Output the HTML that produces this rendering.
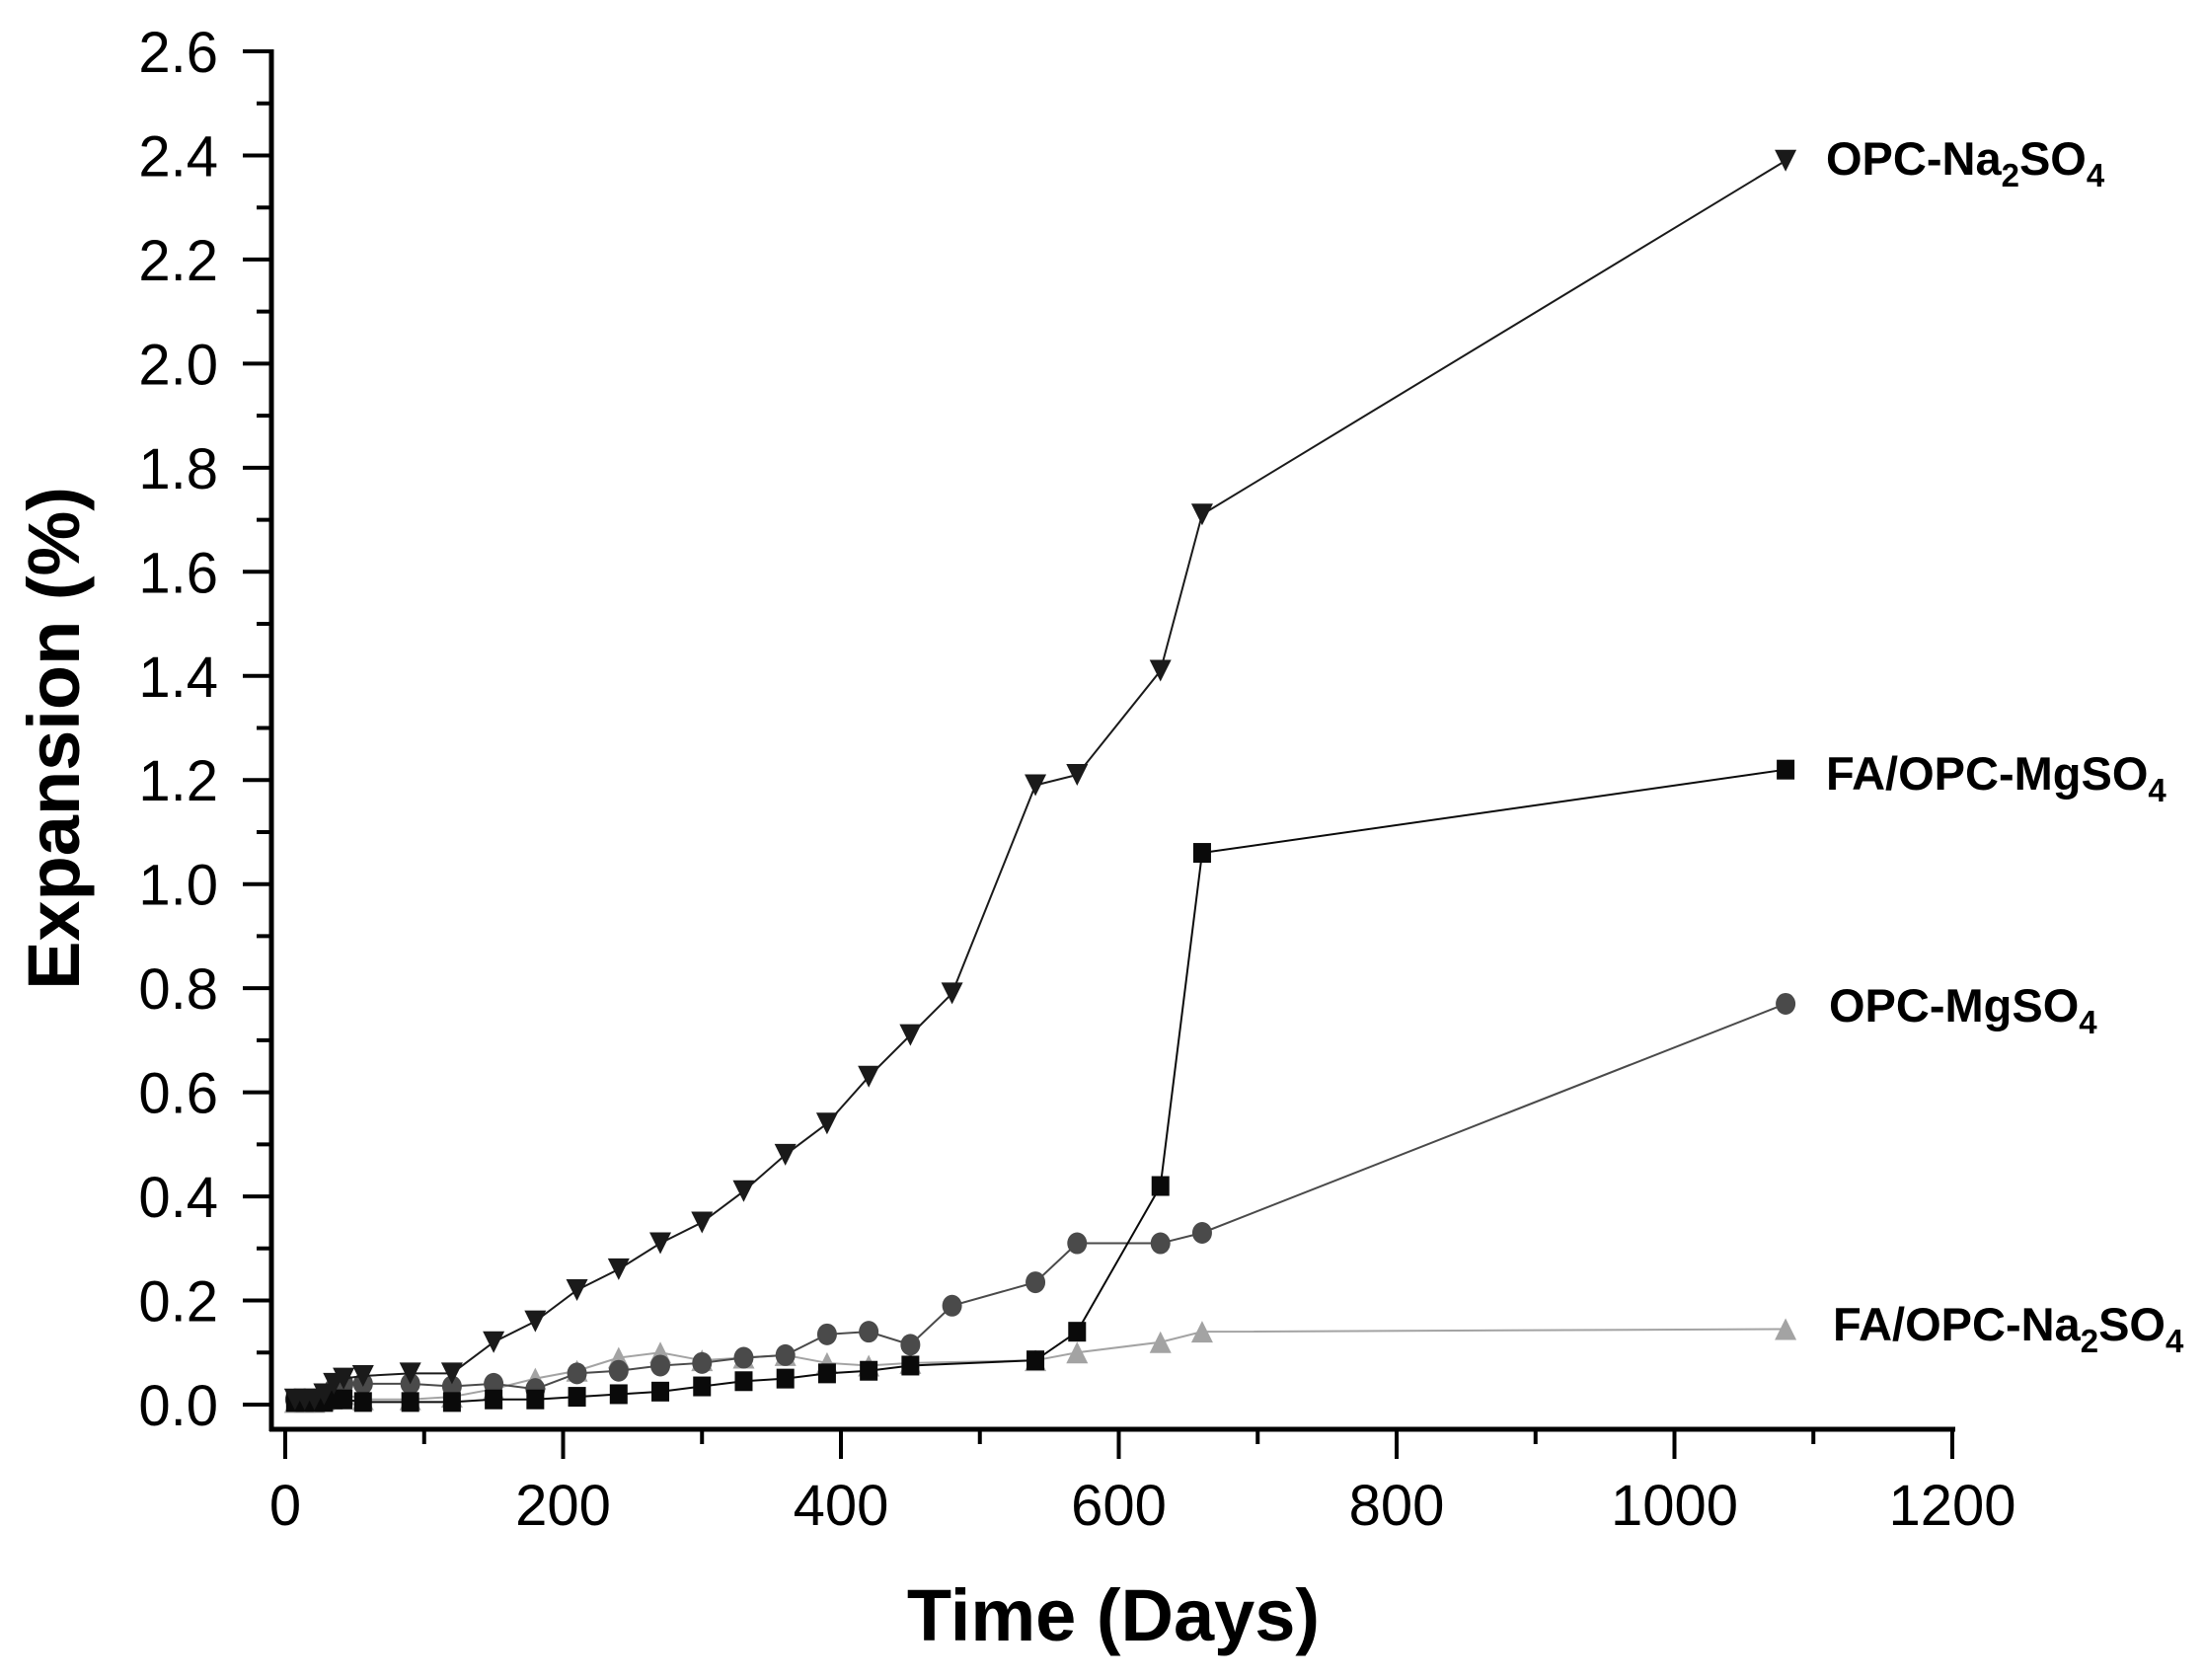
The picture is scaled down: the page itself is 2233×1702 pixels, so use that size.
<!DOCTYPE html>
<html><head><meta charset="utf-8"><style>
html,body{margin:0;padding:0;background:#fff;}
svg{display:block;font-family:"Liberation Sans",Arial,sans-serif;}
</style></head><body>
<svg id="chart" width="2233" height="1702" viewBox="0 0 2233 1702">
<g id="axes"></g>
<g id="series"></g>
<text transform="translate(80,748) rotate(-90)" text-anchor="middle" font-weight="bold" font-size="74">Expansion (%)</text>
<text x="1128" y="1662" text-anchor="middle" font-weight="bold" font-size="74">Time (Days)</text>
<text x="1850" y="177" font-weight="bold" font-size="47">OPC-Na<tspan font-size="33" dy="12">2</tspan><tspan dy="-12">SO</tspan><tspan font-size="33" dy="12">4</tspan></text>
<text x="1850" y="800" font-weight="bold" font-size="47">FA/OPC-MgSO<tspan font-size="33" dy="12">4</tspan></text>
<text x="1853" y="1035" font-weight="bold" font-size="47">OPC-MgSO<tspan font-size="33" dy="12">4</tspan></text>
<text x="1857" y="1358" font-weight="bold" font-size="47">FA/OPC-Na<tspan font-size="33" dy="12">2</tspan><tspan dy="-12">SO</tspan><tspan font-size="33" dy="12">4</tspan></text>
</svg>
<script>
const xTicks=[0,200,400,600,800,1000,1200];
const yTicks=[0,0.2,0.4,0.6,0.8,1.0,1.2,1.4,1.6,1.8,2.0,2.2,2.4,2.6];
const daysA=[7,14,21,28,35,42,56,90,120,150,180,210,240,270,300,330,360,390,420,450,480,540,570,630,660,1080];
const opcNa=[0.01,0.01,0.01,0.02,0.04,0.05,0.055,0.06,0.06,0.12,0.16,0.22,0.26,0.31,0.35,0.41,0.48,0.54,0.63,0.71,0.79,1.19,1.21,1.41,1.71,2.39];
const daysB=[7,14,21,28,35,42,56,90,120,150,180,210,240,270,300,330,360,390,420,450,540,570,630,660,1080];
const faMg=[0.005,0.005,0.005,0.005,0.01,0.01,0.005,0.005,0.005,0.01,0.01,0.015,0.02,0.025,0.035,0.045,0.05,0.06,0.065,0.075,0.085,0.14,0.42,1.06,1.22];
const daysC=[7,14,21,28,35,42,56,90,120,150,180,210,240,270,300,330,360,390,420,450,480,540,570,630,660,1080];
const opcMg=[0.01,0.01,0.01,0.02,0.03,0.04,0.04,0.04,0.035,0.04,0.03,0.06,0.065,0.075,0.08,0.09,0.095,0.135,0.14,0.115,0.19,0.235,0.31,0.31,0.33,0.77];
const daysD=[7,14,21,28,35,42,56,90,120,150,180,210,240,270,300,330,360,390,420,450,540,570,630,660,1080];
const faNa=[0.005,0.005,0.005,0.01,0.015,0.02,0.01,0.01,0.015,0.03,0.05,0.065,0.09,0.1,0.085,0.09,0.095,0.08,0.075,0.08,0.085,0.1,0.12,0.14,0.145];

const X=d=>289+d*(1978-289)/1200;
const Y=v=>1423-v*(1423-52)/2.6;
const NS='http://www.w3.org/2000/svg';
function mk(t,a,p){const e=document.createElementNS(NS,t);for(const k in a)e.setAttribute(k,a[k]);p.appendChild(e);return e;}
const ax=document.getElementById('axes');
let l=mk('line',{x1:275,y1:50,x2:275,y2:1450,stroke:'#000','stroke-width':5},ax);


l=mk('line',{x1:273,y1:1448,x2:1981,y2:1448,stroke:'#000','stroke-width':5},ax);


xTicks.forEach((t,i)=>{
  const x=X(t);
  const tk=mk('line',{x1:x,y1:1446,x2:x,y2:1478,stroke:'#000','stroke-width':4},ax);
  
  
  const tx=mk('text',{x:x,y:1545,'text-anchor':'middle','font-size':58},ax);
  tx.textContent=t;
  
  
  if(i<xTicks.length-1){
    const mx=X(t+100);
    const m=mk('line',{x1:mx,y1:1446,x2:mx,y2:1463,stroke:'#000','stroke-width':4},ax);
    
    
  }
});
yTicks.forEach((t,i)=>{
  const y=Y(t);
  const tk=mk('line',{x1:246,y1:y,x2:277,y2:y,stroke:'#000','stroke-width':4},ax);
  
  
  const tx=mk('text',{x:221,y:y+21,'text-anchor':'end','font-size':58},ax);
  tx.textContent=t.toFixed(1);
  
  
  if(i<yTicks.length-1){
    const my=Y(t+0.1);
    const m=mk('line',{x1:260,y1:my,x2:277,y2:my,stroke:'#000','stroke-width':4},ax);
    
    
  }
});
const sg=document.getElementById('series');
function series(name,days,vals,color,shape){
  const g=mk('g',{},sg);
  
  
  const pts=days.map((d,i)=>X(d)+','+Y(vals[i])).join(' ');
  const pl=mk('polyline',{points:pts,fill:'none',stroke:color,'stroke-width':2},g);
  
  
  days.forEach((d,i)=>{
    const x=X(d),y=Y(vals[i]);let m;
    if(shape==='down')m=mk('polygon',{points:`${x-11},${y-11} ${x+11},${y-11} ${x},${y+11}`,fill:color},g);
    else if(shape==='up')m=mk('polygon',{points:`${x-11},${y+11} ${x+11},${y+11} ${x},${y-11}`,fill:color},g);
    else if(shape==='square')m=mk('rect',{x:x-9,y:y-10,width:18,height:20,fill:color},g);
    else m=mk('ellipse',{cx:x,cy:y,rx:10,ry:11,fill:color},g);
    
    
  });
}
series('fa-opc-na2so4-series',daysD,faNa,'#a3a3a3','up');
series('opc-mgso4-series',daysC,opcMg,'#4a4a4a','circle');
series('fa-opc-mgso4-series',daysB,faMg,'#0a0a0a','square');
series('opc-na2so4-series',daysA,opcNa,'#1a1a1a','down');
</script>
</body></html>
